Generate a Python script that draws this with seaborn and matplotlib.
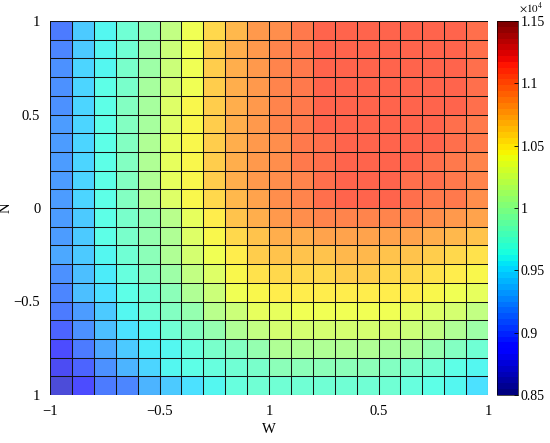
import numpy as np
import pandas as pd
import matplotlib
matplotlib.use("Agg")
import matplotlib.pyplot as plt
import matplotlib.colors as mcolors
import seaborn as sns

# Data (20 x 20 grid, rows from N = 1 at top down to N = -1)

w_labels = ["\u22121", "\u22120.5", "1", "0.5", "1"]
n_labels = ["1", "0.5", "0", "\u22120.5", "1"]

row_00 = [9100, 9400, 9600, 9740, 9940, 10170, 10390, 10600, 10740, 10860, 10930, 11000, 11080, 11100, 11110, 11110, 11110, 11100, 11080, 11050]
row_01 = [9130, 9420, 9610, 9760, 9960, 10200, 10400, 10610, 10750, 10870, 10940, 11010, 11090, 11110, 11120, 11120, 11120, 11110, 11090, 11060]
row_02 = [9160, 9440, 9620, 9780, 9980, 10230, 10410, 10620, 10760, 10870, 10940, 11010, 11090, 11110, 11120, 11120, 11120, 11110, 11090, 11060]
row_03 = [9180, 9450, 9630, 9800, 10000, 10260, 10420, 10620, 10760, 10880, 10940, 11010, 11090, 11110, 11120, 11120, 11120, 11110, 11090, 11050]
row_04 = [9200, 9460, 9640, 9820, 10020, 10290, 10440, 10630, 10770, 10880, 10940, 11010, 11090, 11110, 11120, 11120, 11110, 11100, 11080, 11040]
row_05 = [9210, 9470, 9650, 9840, 10040, 10320, 10450, 10630, 10770, 10880, 10940, 11010, 11080, 11110, 11120, 11110, 11110, 11090, 11070, 11030]
row_06 = [9220, 9470, 9660, 9850, 10050, 10340, 10460, 10630, 10770, 10880, 10930, 11000, 11070, 11100, 11110, 11110, 11100, 11080, 11050, 11000]
row_07 = [9220, 9470, 9660, 9850, 10060, 10340, 10460, 10630, 10760, 10870, 10920, 10990, 11060, 11100, 11110, 11100, 11090, 11060, 11030, 10980]
row_08 = [9220, 9470, 9660, 9850, 10060, 10330, 10450, 10620, 10750, 10860, 10910, 10980, 11050, 11090, 11100, 11090, 11070, 11040, 11010, 10950]
row_09 = [9220, 9470, 9660, 9840, 10050, 10310, 10440, 10600, 10730, 10840, 10900, 10970, 11040, 11080, 11090, 11080, 11060, 11030, 10990, 10930]
row_10 = [9220, 9400, 9670, 9800, 9940, 10130, 10330, 10500, 10680, 10760, 10890, 10920, 10950, 10970, 10980, 10970, 10940, 10900, 10850, 10800]
row_11 = [9240, 9410, 9650, 9770, 9910, 10090, 10290, 10450, 10590, 10690, 10760, 10780, 10810, 10830, 10840, 10830, 10800, 10760, 10720, 10680]
row_12 = [9250, 9420, 9620, 9740, 9880, 10050, 10250, 10400, 10500, 10620, 10660, 10670, 10690, 10710, 10710, 10700, 10680, 10640, 10600, 10550]
row_13 = [9200, 9380, 9570, 9700, 9820, 9980, 10160, 10310, 10440, 10540, 10580, 10590, 10600, 10610, 10610, 10600, 10580, 10540, 10490, 10430]
row_14 = [9150, 9350, 9520, 9660, 9760, 9900, 10070, 10220, 10380, 10450, 10480, 10490, 10500, 10510, 10510, 10500, 10480, 10440, 10390, 10330]
row_15 = [9080, 9230, 9420, 9600, 9720, 9820, 9950, 10100, 10220, 10350, 10370, 10380, 10390, 10390, 10390, 10380, 10360, 10320, 10250, 10170]
row_16 = [8980, 9200, 9350, 9520, 9620, 9740, 9820, 9940, 10050, 10160, 10240, 10250, 10250, 10250, 10250, 10240, 10210, 10150, 10060, 9970]
row_17 = [8870, 9100, 9260, 9400, 9550, 9620, 9700, 9780, 9850, 9940, 10060, 10070, 10070, 10070, 10060, 10040, 10000, 9930, 9840, 9760]
row_18 = [8800, 8980, 9170, 9320, 9450, 9580, 9630, 9700, 9760, 9800, 9870, 9880, 9880, 9870, 9860, 9840, 9800, 9730, 9650, 9580]
row_19 = [8700, 8830, 9070, 9150, 9300, 9420, 9500, 9610, 9680, 9720, 9760, 9760, 9760, 9750, 9740, 9720, 9690, 9640, 9600, 9500]

grid = pd.DataFrame([row_00, row_01, row_02, row_03, row_04, row_05, row_06,
                     row_07, row_08, row_09, row_10, row_11, row_12, row_13,
                     row_14, row_15, row_16, row_17, row_18, row_19])

vmin, vmax = 8500, 11500
cbar_ticks = [8500, 9000, 9500, 10000, 10500, 11000, 11500]
cbar_labels = ["0.85", "0.9", "0.95", "1", "1.05", "1.1", "1.15"]

# Plot

plt.rcParams["font.family"] = ["Liberation Serif", "DejaVu Serif"]
plt.rcParams["mathtext.fontset"] = "stix"

cmap = plt.get_cmap("jet", 64)

fig = plt.figure(figsize=(5.5, 4.43), dpi=100)
ax = fig.add_axes([50 / 550, 1 - 395 / 443, 438 / 550, 374 / 443])
cax = fig.add_axes([497 / 550, 1 - 395 / 443, 21 / 550, 374 / 443])

sns.heatmap(grid, ax=ax, cmap=cmap, vmin=vmin, vmax=vmax, cbar=False,
            linewidths=0, alpha=0.7,
            xticklabels=False, yticklabels=False)

# opaque cell borders, drawn on top of the translucent faces
n_rows, n_cols = grid.shape
for k in range(n_rows + 1):
    ax.axhline(k, color="#141414", lw=0.75)
for k in range(n_cols + 1):
    ax.axvline(k, color="#141414", lw=0.75)

ax.set_xticks(np.linspace(0, n_cols, 5))
ax.set_xticklabels(w_labels, fontsize=10.5)
ax.set_yticks(np.linspace(0, n_rows, 5))
ax.set_yticklabels(n_labels, fontsize=10.5, rotation=0)
ax.tick_params(length=0, pad=7)
ax.set_xlabel("W", fontsize=10.5, labelpad=4)
ax.set_ylabel("N", fontsize=10.5, labelpad=1)

sm = plt.cm.ScalarMappable(norm=mcolors.Normalize(vmin, vmax), cmap=cmap)
cb = fig.colorbar(sm, cax=cax)
cb.set_ticks(cbar_ticks)
cb.set_ticklabels(cbar_labels)
cb.outline.set_linewidth(0.5)
cax.tick_params(labelsize=10, direction="in", length=3, width=0.6, pad=2)
cax.text(1.05, 1.015, r"$\times 10^4$", transform=cax.transAxes,
         ha="left", va="bottom", fontsize=8)

fig.savefig("out.png", dpi=100)
